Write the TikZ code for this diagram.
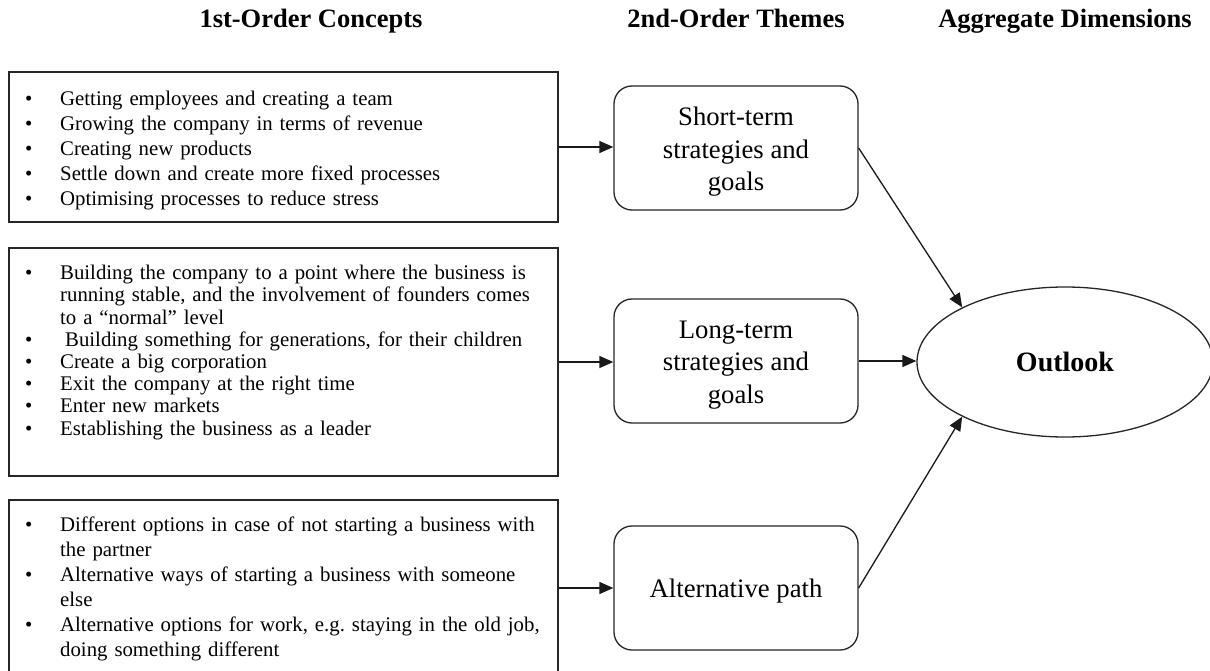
\documentclass[tikz,border=0pt]{standalone}
\usepackage{fontspec}
\setmainfont{Liberation Serif}
\usetikzlibrary{arrows.meta,shapes.geometric}
\frenchspacing
\newcommand\bul{\makebox[35pt][l]{\textbullet}}
\newcommand\cont{\hspace*{35pt}}
\tikzset{
  ln/.style={line width=1.3pt, draw=black!85},
  listbox/.style={ln, rectangle, minimum width=549pt, inner sep=0pt},
  listtext/.style={anchor=north west, inner sep=0pt, text width=532pt, align=left},
  theme/.style={ln, rectangle, rounded corners=18pt, minimum width=244pt, minimum height=124pt, inner sep=0pt},
  themetext/.style={inner sep=0pt, align=center, font=\fontsize{26.7}{32.5}\selectfont},
  title/.style={anchor=base, inner sep=0pt, font=\fontsize{26.5}{30}\selectfont\bfseries},
  agg/.style={ln, ellipse, minimum width=296pt, minimum height=150pt, inner sep=0pt,
    font=\fontsize{28}{32}\selectfont\bfseries},
  arr/.style={line width=1.3pt, draw=black!90, -{Triangle[length=14pt,width=12pt]}}
}
\begin{document}
\begin{tikzpicture}[x=1pt,y=-1pt]
\clip (0,0) rectangle (1210,671);
\fill[white] (0,0) rectangle (1210,671);
% titles
\node[title] (h1) at (311,28) {1st-Order Concepts};
\node[title] (h2) at (736,28) {2nd-Order Themes};
\node[title] (h3) at (1065,28) {Aggregate Dimensions};
% list boxes
\node[listbox, minimum height=150pt] (b1) at (283.5,147) {};
\node[listbox, minimum height=228pt] (b2) at (283.5,362) {};
\node[listbox, minimum height=220pt] (b3) at (283.5,610) {};
\node[listtext, font=\fontsize{20.8}{25}\selectfont] (t1) at (25,87.5) {\strut\bul Getting employees and creating a team\\
\bul Growing the company in terms of revenue\\
\bul Creating new products\\
\bul Settle down and create more fixed processes\\
\bul Optimising processes to reduce stress};
\node[listtext, font=\fontsize{20.8}{22.2}\selectfont] (t2) at (25,264) {\strut\bul Building the company to a point where the business is\\
\cont running stable, and the involvement of founders comes\\
\cont to a “normal” level\\
\bul\hspace{5pt}Building something for generations, for their children\\
\bul Create a big corporation\\
\bul Exit the company at the right time\\
\bul Enter new markets\\
\bul Establishing the business as a leader};
\node[listtext, font=\fontsize{20.8}{25}\selectfont] (t3) at (25,514) {\strut\bul Different options in case of not starting a business with\\
\cont the partner\\
\bul Alternative ways of starting a business with someone\\
\cont else\\
\bul Alternative options for work, e.g. staying in the old job,\\
\cont doing something different};
% themes
\node[theme] (st) at (736,148) {};
\node[themetext] (stl) at (736,152) {Short-term\\strategies and\\goals};
\node[theme] (lt) at (736,361) {};
\node[themetext] (ltl) at (736,365) {Long-term\\strategies and\\goals};
\node[theme] (ap) at (736,588) {};
\node[themetext] (apl) at (736,591) {Alternative path};
% aggregate
\node[agg] (out) at (1065,362) {Outlook};
% connectors
\draw[arr] (b1.east) -- (st.west |- b1.east);
\draw[arr] (b2.east) -- (lt.west |- b2.east);
\draw[arr] (b3.east |- ap.west) -- (ap.west);
\draw[arr] (st.east) -- (out.152);
\draw[arr] (lt.east) -- (out.west |- lt.east);
\draw[arr] (ap.east) -- (out.208);
\end{tikzpicture}
\end{document}
